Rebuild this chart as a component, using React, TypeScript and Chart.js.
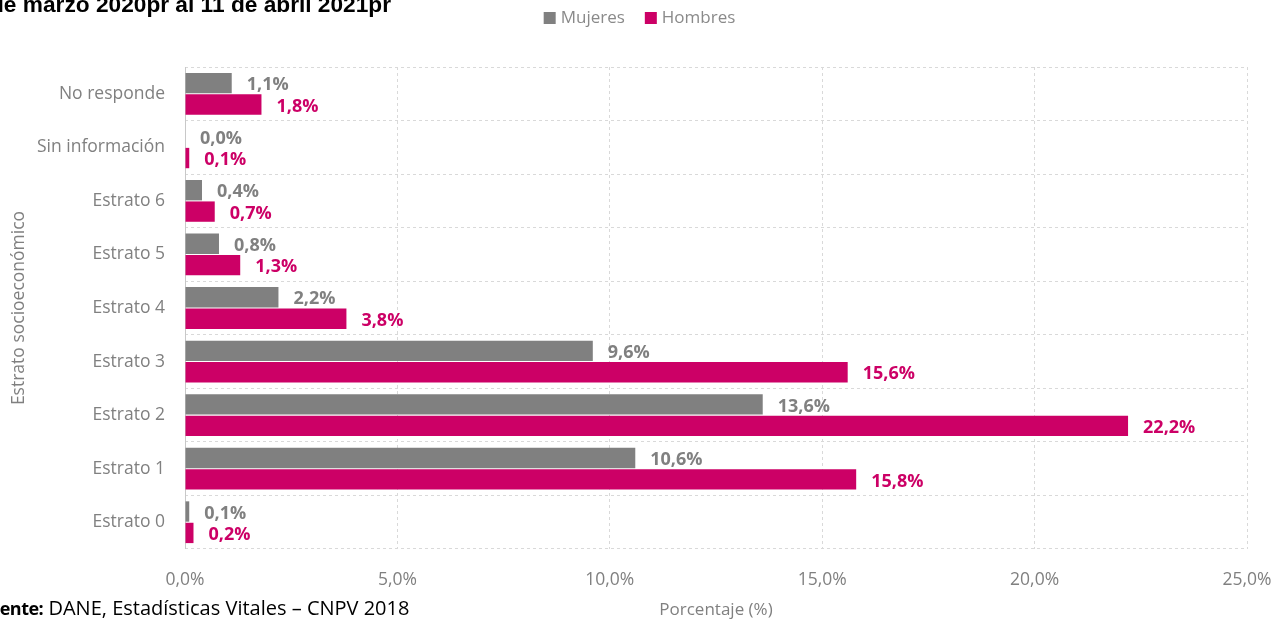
import React, { useEffect, useRef } from 'react';
import { Chart, registerables } from 'chart.js';

Chart.register(...registerables);

const categories = [
  'No responde',
  'Sin información',
  'Estrato 6',
  'Estrato 5',
  'Estrato 4',
  'Estrato 3',
  'Estrato 2',
  'Estrato 1',
  'Estrato 0',
];
const mujeres = [1.1, 0.0, 0.4, 0.8, 2.2, 9.6, 13.6, 10.6, 0.1];
const hombres = [1.8, 0.1, 0.7, 1.3, 3.8, 15.6, 22.2, 15.8, 0.2];
const seriesNames = ['Mujeres', 'Hombres'];
const seriesColors = ['#808080', '#CC0066'];
const xMin = 0;
const xMax = 25;
const xStep = 5;

const titleText = 'de marzo 2020pr al 11 de abril 2021pr';
const sourceLabel = 'Fuente:';
const sourceText = ' DANE, Estadísticas Vitales – CNPV 2018';

const FONT = "'Open Sans', 'Noto Sans', sans-serif";
const fmt = (v: number) => v.toFixed(1).replace('.', ',') + '%';

const dataLabelPlugin = {
  id: 'dataLabels',
  afterDatasetsDraw(chart: any) {
    const ctx = chart.ctx;
    ctx.save();
    ctx.font = `bold 18px ${FONT}`;
    ctx.textAlign = 'left';
    ctx.textBaseline = 'middle';
    chart.data.datasets.forEach((ds: any, di: number) => {
      const meta = chart.getDatasetMeta(di);
      ctx.fillStyle = ds.backgroundColor;
      meta.data.forEach((el: any, i: number) => {
        ctx.fillText(fmt(ds.data[i]), el.x + 15, el.y + 2);
      });
    });
    ctx.restore();
  },
};

const axisLinePlugin = {
  id: 'solidAxisLine',
  beforeDatasetsDraw(chart: any) {
    const { ctx, chartArea } = chart;
    ctx.save();
    ctx.strokeStyle = '#c8c8c8';
    ctx.lineWidth = 1;
    ctx.setLineDash([]);
    ctx.beginPath();
    const x = Math.round(chartArea.left) + 0.5;
    ctx.moveTo(x, chartArea.top);
    ctx.lineTo(x, chartArea.bottom);
    ctx.stroke();
    ctx.restore();
  },
};

const legendPlugin = {
  id: 'customLegend',
  afterDraw(chart: any) {
    const ctx = chart.ctx;
    ctx.save();
    ctx.font = `17px ${FONT}`;
    ctx.textBaseline = 'middle';
    ctx.textAlign = 'left';
    const box = 12;
    const gap = 5;
    const spacing = 20;
    const widths = seriesNames.map((n) => ctx.measureText(n).width);
    const total = widths.reduce((a, w) => a + box + gap + w, 0) + spacing * (seriesNames.length - 1);
    let x = (chart.width - total) / 2 - 2;
    const cy = 18;
    seriesNames.forEach((n, i) => {
      ctx.fillStyle = seriesColors[i];
      ctx.fillRect(x, cy - box / 2, box, box);
      x += box + gap;
      ctx.fillStyle = '#8a8a8a';
      ctx.fillText(n, x, cy);
      x += widths[i] + spacing;
    });
    ctx.restore();
  },
};

export default function App() {
  const canvasRef = useRef<HTMLCanvasElement | null>(null);

  useEffect(() => {
    if (!canvasRef.current) return;
    const chart = new Chart(canvasRef.current, {
      type: 'bar',
      data: {
        labels: categories,
        datasets: [
          {
            label: seriesNames[0],
            data: mujeres,
            backgroundColor: seriesColors[0],
            categoryPercentage: 0.8,
            barPercentage: 0.95,
          },
          {
            label: seriesNames[1],
            data: hombres,
            backgroundColor: seriesColors[1],
            categoryPercentage: 0.8,
            barPercentage: 0.95,
          },
        ],
      },
      options: {
        indexAxis: 'y',
        animation: false,
        responsive: true,
        maintainAspectRatio: false,
        layout: { padding: { top: 67, right: 36, left: 0, bottom: 0 } },
        plugins: {
          legend: { display: false },
          tooltip: { enabled: false },
        },
        scales: {
          x: {
            type: 'linear',
            min: xMin,
            max: xMax,
            ticks: {
              stepSize: xStep,
              padding: 21,
              color: '#808080',
              font: { family: FONT, size: 17.5 },
              callback: (v: any) => fmt(Number(v)),
            },
            grid: {
              color: '#d9d9d9',
              drawTicks: false,
              lineWidth: 1,
            },
            border: { display: false, dash: [3, 3] },
            title: {
              display: true,
              text: 'Porcentaje (%)',
              color: '#808080',
              font: { family: FONT, size: 17 },
              padding: { top: 0, bottom: 0 },
            },
            afterFit: (s: any) => {
              s.height = 71;
              s.paddingRight = 0;
              s.paddingLeft = 0;
            },
          },
          y: {
            type: 'category',
            ticks: {
              padding: 20,
              color: '#808080',
              font: { family: FONT, size: 17.5 },
            },
            grid: {
              color: '#d9d9d9',
              drawTicks: false,
              offset: true,
              lineWidth: 1,
            },
            border: { display: false, dash: [3, 3] },
            title: {
              display: true,
              text: 'Estrato socioeconómico',
              color: '#808080',
              font: { family: FONT, size: 17.5 },
              padding: { top: 9, bottom: 0 },
            },
            afterFit: (s: any) => {
              s.width = 185;
            },
          },
        },
      },
      plugins: [axisLinePlugin, dataLabelPlugin, legendPlugin],
    });
    return () => chart.destroy();
  }, []);

  return (
    <div style={{ position: 'absolute', left: 0, top: 0, width: 1283, height: 620, overflow: 'hidden', background: '#fff' }}>
      <div style={{ position: 'absolute', left: 0, top: 0, width: 1283, height: 620 }}>
        <canvas ref={canvasRef} />
      </div>
      <div
        style={{
          position: 'absolute',
          left: -10,
          top: -7,
          fontFamily: "'Liberation Sans', Arial, sans-serif",
          fontWeight: 'bold',
          fontSize: 22.7,
          lineHeight: '22px',
          color: '#000',
          whiteSpace: 'nowrap',
        }}
      >
        {titleText}
      </div>
      <div
        style={{
          position: 'absolute',
          left: -21,
          top: 596,
          fontFamily: FONT,
          fontSize: 20,
          lineHeight: '24px',
          color: '#000',
          whiteSpace: 'nowrap',
        }}
      >
        <b style={{ fontSize: 18, letterSpacing: '-0.5px' }}>{sourceLabel}</b>
        {sourceText}
      </div>
    </div>
  );
}
